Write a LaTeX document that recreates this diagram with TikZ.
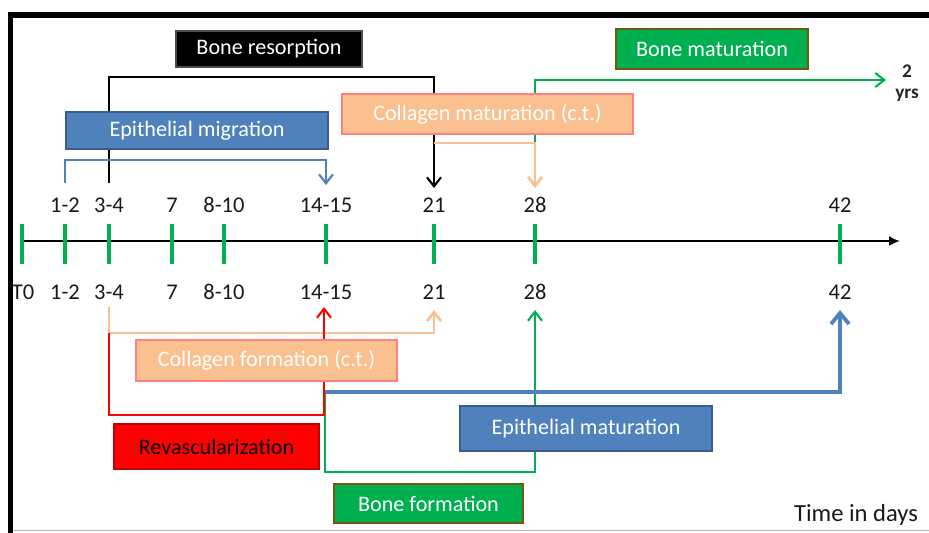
\documentclass[tikz,border=0pt]{standalone}
\usepackage{fontspec}
\setmainfont{Carlito}
\usepackage{xcolor}
\usepackage{tikz}
\usetikzlibrary{arrows.meta, positioning, calc}

\definecolor{epiblue}{HTML}{4F81BD}
\definecolor{epiedge}{HTML}{385D8A}
\definecolor{colfill}{HTML}{FAC090}
\definecolor{coledge}{HTML}{FF8080}
\definecolor{bonegreen}{HTML}{00B050}
\definecolor{boneedge}{HTML}{6F5A10}
\definecolor{revred}{HTML}{FF0000}
\definecolor{revedge}{HTML}{C00000}

\begin{document}
\begin{tikzpicture}[x=0.02cm, y=-0.02cm,
    phase/.style={rectangle, draw, line width=0.8pt, text=white, inner sep=0pt, font=\fontsize{12.6}{14}\selectfont},
    daylabel/.style={font=\fontsize{12.8}{14}\selectfont, text=black!90},
    tickmark/.style={draw=bonegreen, line width=2.1pt},
    span/.style={line width=1.2pt, -{Straight Barb[length=1.8mm, width=2.8mm]}},
    bigspan/.style={line width=2.2pt, -{Straight Barb[length=2.2mm, width=3.6mm]}}
  ]
    \useasboundingbox (0,0) rectangle (929,532);

    % Frame
    \draw[line width=3.1pt] (10.5,533) |- (935,15);
    \draw[gray!60, line width=0.6pt] (13,530.5) -- (929,530.5);

    % Axis
    \coordinate (axisS) at (20,241);
    \coordinate (axisE) at (900,241);
    \draw[line width=1.2pt, -{Latex[length=2.2mm, width=2mm]}] (axisS) -- (axisE);
    \foreach \x in {22,65,109,172,224,326,434,535,840}
      \draw[tickmark] (\x,224) -- (\x,264);

    % Day labels
    \foreach \x/\lab/\nm in {65/1-2/a, 109/3-4/b, 172/7/c, 224/8-10/d, 326/14-15/e, 434/21/f, 535/28/g, 840/42/h} {
      \node[daylabel] (up\nm) at (\x,205) {\lab};
      \node[daylabel] (dn\nm) at (\x,292) {\lab};
    }
    \node[daylabel] (dnzero) at (23,292) {T0};
    \node[font=\bfseries\fontsize{11}{12}\selectfont, text=black!85] (yrsnum) at (907,71) {2};
    \node[font=\bfseries\fontsize{11}{12}\selectfont, text=black!85] (yrs) at (907,95) {yrs};
    \node[font=\fontsize{14}{16}\selectfont, text=black!90] (unit) at (856,515) {Time in days};

    % Span ends
    \coordinate (resorbS) at (109,183);
    \coordinate (resorbE) at (434,188);
    \coordinate (migS) at (65,183);
    \coordinate (migE) at (326,185);
    \coordinate (colmS) at (434,143);
    \coordinate (colmE) at (535,188);
    \coordinate (matS) at (535,143);
    \coordinate (matE) at (886,80);
    \coordinate (colfS) at (109,307);
    \coordinate (colfE) at (434,310);
    \coordinate (revS) at (109,333);
    \coordinate (revE) at (324,307);
    \coordinate (epimS) at (325,392);
    \coordinate (epimE) at (840,310);
    \coordinate (formS) at (325,392);
    \coordinate (formE) at (535,310);

    % Spans above the axis
    \draw[span] (resorbS) -- ++(0,-106) -| (resorbE);
    \draw[span, epiblue] (migS) -- ++(0,-23) -| (migE);
    \draw[span, bonegreen] (matS) |- (matE);
    \draw[span, colfill, line width=1.5pt] (colmS) -| (colmE);

    % Spans below the axis
    \draw[span, bonegreen] (formS) -- ++(0,80) -| (formE);
    \draw[bigspan, epiblue] (epimS) -| (epimE);
    \draw[span, colfill, line width=1.5pt] (colfS) -- ++(0,26) -| (colfE);
    \draw[span, revred] (revS) -- ++(0,82) -| (revE);

    % Phases
    \node[phase, fill=black, draw=black!70, minimum width=3.72cm, minimum height=0.72cm] (resorb) at (269,49) {Bone resorption};
    \node[phase, fill=epiblue, draw=epiedge, minimum width=5.24cm, minimum height=0.74cm] (mig) at (197,130.5) {Epithelial migration};
    \node[phase, fill=colfill, draw=coledge, minimum width=5.82cm, minimum height=0.8cm] (colm) at (487.5,114) {Collagen maturation (c.t.)};
    \node[phase, fill=bonegreen, draw=boneedge, minimum width=3.84cm, minimum height=0.8cm] (mat) at (712,49) {Bone maturation};
    \node[phase, fill=colfill, draw=coledge, minimum width=5.22cm, minimum height=0.82cm] (colf) at (266.5,360.5) {Collagen formation (c.t.)};
    \node[phase, fill=revred, draw=revedge, text=black, minimum width=4.1cm, minimum height=0.9cm] (rev) at (216.5,446.5) {Revascularization};
    \node[phase, fill=epiblue, draw=epiedge, minimum width=5.04cm, minimum height=0.9cm] (epim) at (586,428.5) {Epithelial maturation};
    \node[phase, fill=bonegreen, draw=boneedge, minimum width=3.78cm, minimum height=0.78cm] (form) at (428.5,503.5) {Bone formation};

  \end{tikzpicture}
\end{document}
